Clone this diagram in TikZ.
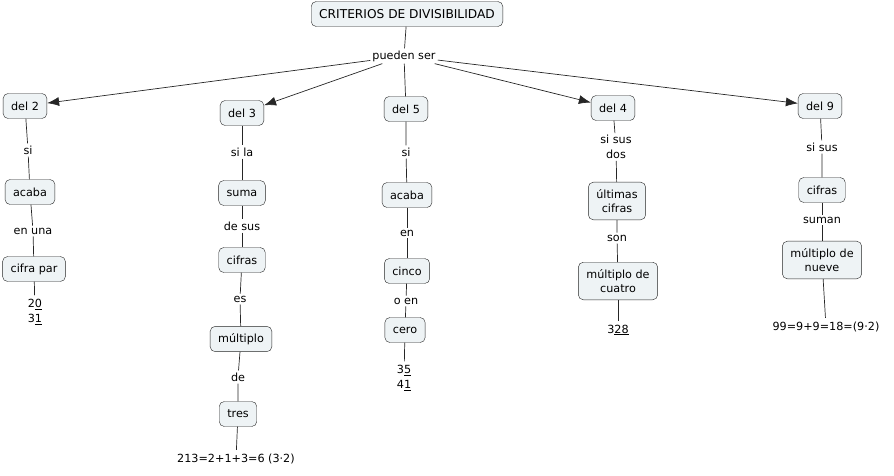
\documentclass[tikz,border=0pt]{standalone}
\usepackage{fontspec}
\setmainfont{DejaVu Sans}
\usepackage{xcolor}
\usepackage{tikz}
\usetikzlibrary{positioning, arrows.meta}
\definecolor{cmapfill}{HTML}{EEF3F5}
\newcommand{\conceptcolor}{cmapfill}

\begin{document}
\begin{tikzpicture}[x=1pt, y=-1pt, font=\fontsize{11.2}{14.5}\selectfont]
	\tikzstyle{conc}=[draw=black!85, rounded corners=5pt, fill=\conceptcolor, minimum height=25pt, inner xsep=8pt, inner ysep=7pt, align=center]
	\tikzstyle{linkp}=[inner sep=2pt, align=center]
	\tikzstyle{leaf}=[inner sep=4pt, align=center]
	\tikzstyle{conn}=[draw=black!85, line width=0.7pt]
	\tikzstyle{arr}=[conn, -{Latex[length=12pt, width=9pt]}]

	\useasboundingbox (0,0) rectangle (894,475);

%%	top
	\node (c00) at (407,14) [conc, font=\fontsize{12.2}{14.5}\selectfont]{CRITERIOS DE DIVISIBILIDAD};
	\node (l00) at (404,56) [linkp]{pueden ser};

	\node (c01) at (25,106) [conc]{del 2};
	\node (c02) at (242,113) [conc]{del 3};
	\node (c03) at (406,109) [conc]{del 5};
	\node (c04) at (613,108) [conc]{del 4};
	\node (c05) at (820,106) [conc]{del 9};

	\draw [conn] (c00) -- (l00);
	\draw [arr] (l00) -- (c01);
	\draw [arr] (l00) -- (c02);
	\draw [conn] (l00) -- (c03);
	\draw [arr] (l00) -- (c04);
	\draw [arr] (l00) -- (c05);

%%	del 2
	\node (l11) at (28,150) [linkp]{si};
	\node (c11) at (30,192) [conc]{acaba};
	\node (l12) at (33,231) [linkp]{en una};
	\node (c12) at (34,269) [conc]{cifra par};
	\node (e1) at (35,312) [leaf]{2\underline{0}\\3\underline{1}};

	\draw [conn] (c01) -- (l11) -- (c11);
	\draw [conn] (c11) -- (l12) -- (c12);
	\draw [conn] (c12) -- (e1);

%%	del 3
	\node (l21) at (242,152) [linkp]{si la};
	\node (c21) at (242,193) [conc]{suma};
	\node (l22) at (242,226) [linkp]{de sus};
	\node (c22) at (242,260) [conc]{cifras};
	\node (l23) at (240,299) [linkp]{es};
	\node (c23) at (241,339) [conc]{múltiplo};
	\node (l24) at (238,377) [linkp]{de};
	\node (c24) at (238,414) [conc]{tres};
	\node (e2) at (236,459) [leaf]{213=2+1+3=6 (3·2)};

	\draw [conn] (c02) -- (l21) -- (c21);
	\draw [conn] (c21) -- (l22) -- (c22);
	\draw [conn] (c22) -- (l23) -- (c23);
	\draw [conn] (c23) -- (l24) -- (c24);
	\draw [conn] (c24) -- (e2);

%%	del 5
	\node (l31) at (406,152) [linkp]{si};
	\node (c31) at (407,195) [conc]{acaba};
	\node (l32) at (407,233) [linkp]{en};
	\node (c32) at (407,271) [conc]{cinco};
	\node (l33) at (406,301) [linkp]{o en};
	\node (c33) at (405,330) [conc]{cero};
	\node (e3) at (404,378) [leaf]{3\underline{5}\\4\underline{1}};

	\draw [conn] (c03) -- (l31) -- (c31);
	\draw [conn] (c31) -- (l32) -- (c32);
	\draw [conn] (c32) -- (l33) -- (c33);
	\draw [conn] (c33) -- (e3);

%%	del 4
	\node (l41) at (616,147) [linkp]{si sus\\dos};
	\node (c41) at (617,201) [conc]{últimas\\cifras};
	\node (l42) at (617,238) [linkp]{son};
	\node (c42) at (618,281) [conc]{múltiplo de\\cuatro};
	\node (e4) at (618,330) [leaf]{3\underline{28}};

	\draw [conn] (c04) -- (l41) -- (c41);
	\draw [conn] (c41) -- (l42) -- (c42);
	\draw [conn] (c42) -- (e4);

%%	del 9
	\node (l51) at (822,147) [linkp]{si sus};
	\node (c51) at (822,190) [conc]{cifras};
	\node (l52) at (822,220) [linkp]{suman};
	\node (c52) at (822,260) [conc]{múltiplo de\\nueve};
	\node (e5) at (826,327) [leaf]{99=9+9=18=(9·2)};

	\draw [conn] (c05) -- (l51) -- (c51);
	\draw [conn] (c51) -- (l52) -- (c52);
	\draw [conn] (c52) -- (e5);
\end{tikzpicture}
\end{document}
